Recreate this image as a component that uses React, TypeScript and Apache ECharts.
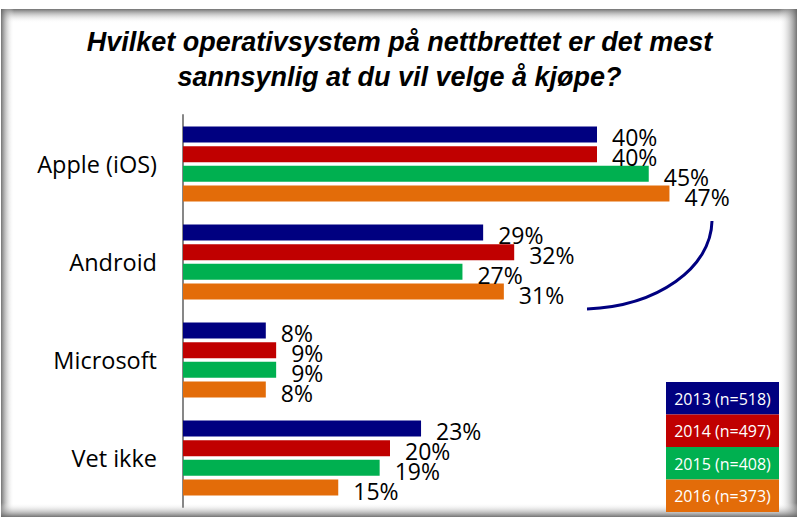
import React, { useEffect, useRef } from "react";
import * as echarts from "echarts";

const titleLines = [
  "Hvilket operativsystem på nettbrettet er det mest",
  "sannsynlig at du vil velge å kjøpe?",
];
const categories = ["Apple (iOS)", "Android", "Microsoft", "Vet ikke"];
const seriesNames = ["2013 (n=518)", "2014 (n=497)", "2015 (n=408)", "2016 (n=373)"];
const seriesColors = ["#000080", "#C00000", "#00B050", "#E36C09"];
const values2013 = [40, 29, 8, 23];
const values2014 = [40, 32, 9, 20];
const values2015 = [45, 27, 9, 19];
const values2016 = [47, 31, 8, 15];
const allValues = [values2013, values2014, values2015, values2016];

function frameRects() {
  const dark = "rgba(100,100,100,0.9)";
  const clear = "rgba(255,255,255,0)";
  const lg = (x1: number, y1: number, x2: number, y2: number) =>
    new echarts.graphic.LinearGradient(x1, y1, x2, y2, [
      { offset: 0, color: dark },
      { offset: 1, color: clear },
    ]);
  return [
    { type: "rect", shape: { x: 1, y: 9, width: 796, height: 14 }, style: { fill: lg(0, 0, 0, 1) }, silent: true, z: 0 },
    { type: "rect", shape: { x: 1, y: 9, width: 13, height: 508 }, style: { fill: lg(0, 0, 1, 0) }, silent: true, z: 0 },
    { type: "rect", shape: { x: 779, y: 9, width: 18, height: 508 }, style: { fill: lg(1, 0, 0, 0) }, silent: true, z: 0 },
    { type: "rect", shape: { x: 1, y: 503, width: 796, height: 14 }, style: { fill: lg(0, 1, 0, 0) }, silent: true, z: 0 },
  ];
}

export default function App() {
  const ref = useRef<HTMLDivElement>(null);
  useEffect(() => {
    if (!ref.current) return;
    const chart = echarts.init(ref.current, undefined, { renderer: "svg" });
    const legendEls: any[] = [];
    seriesNames.forEach((name, i) => {
      const y = 382 + i * 32.5;
      legendEls.push({
        type: "rect",
        shape: { x: 666, y, width: 113, height: 32.5 },
        style: { fill: seriesColors[i] },
        z: 10,
      });
      legendEls.push({
        type: "text",
        x: 722.5,
        y: y + 16.5,
        style: {
          text: name,
          fill: "#ffffff",
          font: "16px 'Open Sans'",
          textAlign: "center",
          textVerticalAlign: "middle",
        },
        z: 11,
      });
    });
    chart.setOption({
      animation: false,
      backgroundColor: "#ffffff",
      title: {
        text: titleLines.join("\n"),
        left: "center",
        top: 19,
        textStyle: {
          fontFamily: "'Liberation Sans'",
          fontStyle: "italic",
          fontWeight: "bold",
          fontSize: 27,
          lineHeight: 35,
          color: "#000000",
        },
      },
      grid: { left: 183, top: 115, height: 392, width: 517.5, containLabel: false },
      xAxis: {
        type: "value",
        min: 0,
        max: 50,
        show: false,
      },
      yAxis: {
        type: "category",
        data: categories,
        inverse: true,
        axisLine: { show: true, lineStyle: { color: "#878787", width: 2 } },
        axisTick: { show: false },
        axisLabel: {
          margin: 26,
          color: "#000000",
          fontSize: 23.5,
          fontFamily: "'Open Sans'",
        },
      },
      series: allValues.map((vals, i) => ({
        type: "bar",
        name: seriesNames[i],
        data: vals,
        barWidth: 16,
        barGap: "23%",
        itemStyle: { color: seriesColors[i] },
        label: {
          show: true,
          position: "right",
          distance: 15,
          offset: [0, 3],
          formatter: "{c}%",
          color: "#000000",
          fontSize: 23,
          fontFamily: "'Open Sans'",
        },
      })),
      graphic: [
        ...frameRects(),
        {
          type: "bezierCurve",
          shape: { x1: 712, y1: 221, cpx1: 711, cpy1: 268, cpx2: 658, cpy2: 306, x2: 587, y2: 309 },
          style: { stroke: "#000080", lineWidth: 3, fill: "none" },
          z: 10,
        },
        ...legendEls,
      ],
    });
    return () => chart.dispose();
  }, []);
  return <div ref={ref} style={{ width: 799, height: 519, position: "absolute", left: 0, top: 0 }} />;
}
